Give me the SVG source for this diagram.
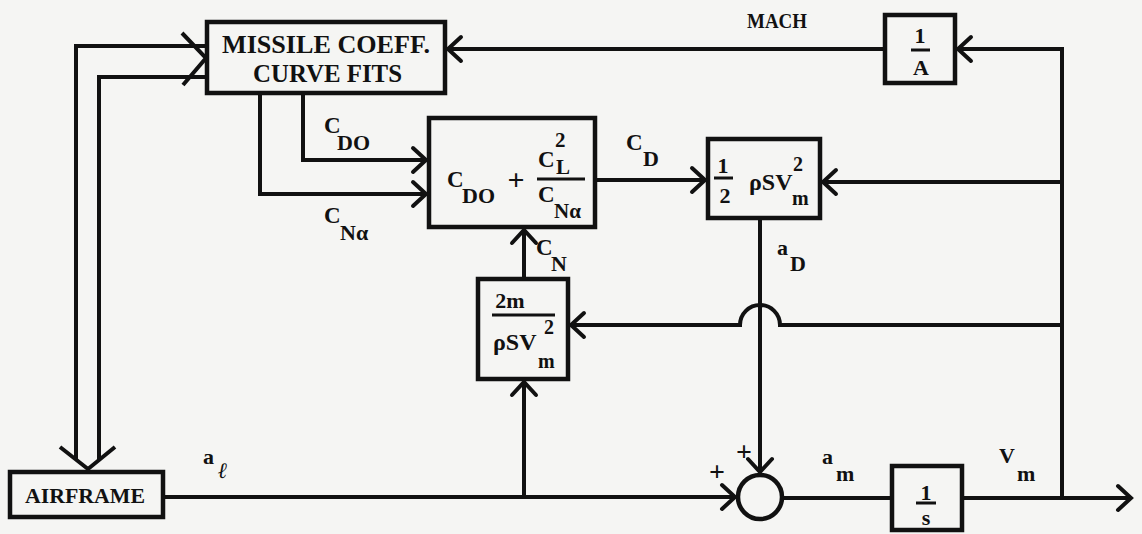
<svg xmlns="http://www.w3.org/2000/svg" width="1142" height="534" viewBox="0 0 1142 534">
<defs>
<marker id="ah" markerUnits="userSpaceOnUse" markerWidth="20" markerHeight="30" viewBox="-17 -15 20 30" refX="0" refY="0" orient="auto" overflow="visible">
<path d="M-13,-12 L0,0 L-13,12" fill="none" stroke="#111" stroke-width="4" stroke-linecap="round"/>
</marker>
</defs>
<style>
.box{fill:none;stroke:#111;stroke-width:4.5}
.ln{fill:none;stroke:#111;stroke-width:4}
.mono{font-family:"Liberation Serif",serif;font-weight:bold;fill:#111}
.ser{font-family:"Liberation Serif",serif;font-weight:bold;fill:#111}
.fr{stroke:#111;stroke-width:3}
</style>
<rect width="1142" height="534" fill="#f5f5f3"/>
<g id="connectors">
<path class="ln" d="M76,460 V46 H205"/>
<path class="ln" d="M99,460 V77 H205"/>
<path class="ln" d="M182,33 L206,58 L183,85"/>
<path class="ln" d="M60,447 L88,469 L115,447"/>
<path class="ln" d="M1062,498 V49 H958" marker-end="url(#ah)"/>
<path class="ln" d="M885,49 H448" marker-end="url(#ah)"/>
<path class="ln" d="M303,93 V160 H426" marker-end="url(#ah)"/>
<path class="ln" d="M260,93 V194 H426" marker-end="url(#ah)"/>
<path class="ln" d="M595,180 H705" marker-end="url(#ah)"/>
<path class="ln" d="M1062,182 H823" marker-end="url(#ah)"/>
<path class="ln" d="M1062,325 H780 A20,20 0 0 0 740,325 H571" marker-end="url(#ah)"/>
<path class="ln" d="M760,218 V472" marker-end="url(#ah)"/>
<path class="ln" d="M163,497 H735" marker-end="url(#ah)"/>
<path class="ln" d="M524,497 V382" marker-end="url(#ah)"/>
<path class="ln" d="M524,279 V230" marker-end="url(#ah)"/>
<path class="ln" d="M782,498 H892"/>
<path class="ln" d="M962,498 H1131" marker-end="url(#ah)"/>
</g>
<g id="labels">
<text class="mono" x="324" y="133" font-size="23">C</text>
<text class="mono" x="337" y="150" font-size="22">DO</text>
<text class="mono" x="324" y="223" font-size="23">C</text>
<text class="mono" x="340" y="240" font-size="22">N&#945;</text>
<text class="mono" x="626" y="150" font-size="23">C</text>
<text class="mono" x="643" y="166" font-size="22">D</text>
<text class="mono" x="536" y="255" font-size="23">C</text>
<text class="mono" x="551" y="271" font-size="22">N</text>
<text class="ser" x="777" y="255" font-size="22">a</text>
<text class="ser" x="790" y="271" font-size="22">D</text>
<text class="ser" x="203" y="464" font-size="22">a</text>
<text class="ser" x="218" y="478" font-size="22" font-style="italic">ℓ</text>
<text class="ser" x="822" y="464" font-size="22">a</text>
<text class="ser" x="836" y="481" font-size="22">m</text>
<text class="ser" x="999" y="463" font-size="22">V</text>
<text class="ser" x="1017" y="481" font-size="22">m</text>
<text class="ser" x="747" y="28" font-size="22" textLength="60" lengthAdjust="spacingAndGlyphs">MACH</text>
<text class="ser" x="744" y="461" font-size="28" text-anchor="middle">+</text>
<text class="ser" x="717" y="481" font-size="28" text-anchor="middle">+</text>
</g>
<g id="missile">
<rect class="box" x="207" y="22" width="238" height="71"/>
<text class="mono" x="222" y="53" font-size="25" textLength="208" lengthAdjust="spacingAndGlyphs">MISSILE COEFF.</text>
<text class="mono" x="253" y="82" font-size="25" textLength="149" lengthAdjust="spacingAndGlyphs">CURVE FITS</text>
</g>
<g id="cd-box">
<rect class="box" x="429" y="118" width="166" height="109"/>
<text class="mono" x="447" y="187" font-size="23">C</text>
<text class="mono" x="462" y="203" font-size="22">DO</text>
<text class="mono" x="516" y="190" font-size="30" text-anchor="middle">+</text>
<text class="mono" x="538" y="167" font-size="23">C</text>
<text class="mono" x="555" y="147" font-size="21">2</text>
<text class="mono" x="556" y="174" font-size="21">L</text>
<line class="fr" x1="537" y1="179" x2="585" y2="179"/>
<text class="mono" x="538" y="202" font-size="23">C</text>
<text class="mono" x="554" y="218" font-size="21">N&#945;</text>
</g>
<g id="drag-box">
<rect class="box" x="708" y="139" width="112" height="79"/>
<text class="ser" x="723" y="173" font-size="22" text-anchor="middle">1</text>
<line class="fr" x1="714" y1="178" x2="733" y2="178"/>
<text class="ser" x="725" y="203" font-size="22" text-anchor="middle">2</text>
<text class="ser" x="749" y="190" font-size="24">ρSV</text>
<text class="ser" x="793" y="171" font-size="20">2</text>
<text class="ser" x="792" y="205" font-size="20">m</text>
</g>
<g id="cn-box">
<rect class="box" x="478" y="279" width="90" height="100"/>
<text class="ser" x="510" y="308" font-size="22" text-anchor="middle">2m</text>
<line class="fr" x1="492" y1="315" x2="555" y2="315"/>
<text class="ser" x="493" y="350" font-size="24">ρSV</text>
<text class="ser" x="544" y="334" font-size="20">2</text>
<text class="ser" x="538" y="368" font-size="20">m</text>
</g>
<g id="inv-a">
<rect class="box" x="885" y="15" width="70" height="68"/>
<text class="ser" x="920" y="43" font-size="22" text-anchor="middle">1</text>
<line class="fr" x1="911" y1="50" x2="930" y2="50"/>
<text class="ser" x="921" y="75" font-size="22" text-anchor="middle">A</text>
</g>
<g id="airframe">
<rect class="box" x="10" y="472" width="153" height="45"/>
<text class="ser" x="25" y="503" font-size="21" textLength="120" lengthAdjust="spacingAndGlyphs">AIRFRAME</text>
</g>
<g id="sum">
<circle class="box" cx="760" cy="497" r="22"/>
</g>
<g id="integrator">
<rect class="box" x="892" y="466" width="70" height="64"/>
<text class="ser" x="926" y="500" font-size="22" text-anchor="middle">1</text>
<line class="fr" x1="916" y1="503" x2="936" y2="503"/>
<text class="ser" x="926" y="525" font-size="22" text-anchor="middle">s</text>
</g>
</svg>
